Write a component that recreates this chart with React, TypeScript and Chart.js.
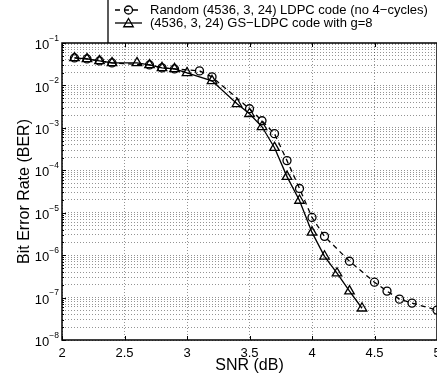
import { useEffect, useRef } from 'react';
import { Chart, registerables } from 'chart.js';
Chart.register(...registerables);

// ---- data ----
const randomSnr = [2.1, 2.2, 2.3, 2.4, 2.7, 2.8, 2.9, 3.1, 3.2, 3.5, 3.6, 3.7, 3.8, 3.9, 4.0, 4.1, 4.3, 4.5, 4.6, 4.7, 4.8, 5.0];
const randomBer = [0.0444, 0.0421, 0.0378, 0.0339, 0.0304, 0.0259, 0.0245, 0.022, 0.0159, 2.82e-3, 1.47e-3, 7.28e-4, 1.69e-4, 3.72e-5, 7.74e-6, 2.77e-6, 7.18e-7, 2.3e-7, 1.42e-7, 9.18e-8, 7.4e-8, 5.06e-8];
const gsSnr = [2.1, 2.2, 2.3, 2.4, 2.6, 2.7, 2.8, 2.9, 3.0, 3.2, 3.4, 3.5, 3.6, 3.7, 3.8, 3.9, 4.0, 4.1, 4.2, 4.3, 4.4];
const gsBer = [0.0444, 0.0421, 0.0378, 0.0339, 0.0339, 0.0304, 0.0259, 0.0245, 0.0197, 0.0128, 3.69e-3, 2.15e-3, 1.06e-3, 3.41e-4, 7.1e-5, 1.94e-5, 3.44e-6, 9.4e-7, 3.75e-7, 1.42e-7, 5.6e-8];

const randomLabel = 'Random (4536, 3, 24) LDPC code (no 4\u2212cycles)';
const gsLabel = '(4536, 3, 24) GS\u2212LDPC code with g=8';
const xTitle = 'SNR (dB)';
const yTitle = 'Bit Error Rate (BER)';

const xTicks = [2, 2.5, 3, 3.5, 4, 4.5, 5];
const xTickLabels = ['2', '2.5', '3', '3.5', '4', '4.5', '5'];
const yExponents = [-8, -7, -6, -5, -4, -3, -2, -1];
const yExponentLabels = ['\u22128', '\u22127', '\u22126', '\u22125', '\u22124', '\u22123', '\u22122', '\u22121'];
const yMantissas = [1, 2, 3, 4, 5, 6, 7, 8, 9];

const FONT = "'Liberation Sans', Arial, Helvetica, sans-serif";

function drawTriangle(ctx: CanvasRenderingContext2D, x: number, y: number, r: number) {
  let rad = 0;
  ctx.beginPath();
  ctx.moveTo(x + Math.sin(rad) * r, y - Math.cos(rad) * r);
  rad += (2 * Math.PI) / 3;
  ctx.lineTo(x + Math.sin(rad) * r, y - Math.cos(rad) * r);
  rad += (2 * Math.PI) / 3;
  ctx.lineTo(x + Math.sin(rad) * r, y - Math.cos(rad) * r);
  ctx.closePath();
  ctx.stroke();
}

export default function App() {
  const ref = useRef<HTMLCanvasElement>(null);

  useEffect(() => {
    document.body.style.margin = '0';
    const canvas = ref.current!;
    Chart.defaults.font.family = FONT;

    const decorPlugin = {
      id: 'decor',
      afterDraw(chart: any) {
        const ctx: CanvasRenderingContext2D = chart.ctx;
        const { left, right, top, bottom } = chart.chartArea;
        const xs = chart.scales.x;
        const ys = chart.scales.y;
        ctx.save();
        ctx.strokeStyle = '#000';
        ctx.fillStyle = '#000';
        ctx.setLineDash([]);

        // tick marks (inward)
        ctx.lineWidth = 1;
        ctx.beginPath();
        xTicks.forEach((v) => {
          const px = Math.round(xs.getPixelForValue(v)) + 0.5;
          ctx.moveTo(px, bottom);
          ctx.lineTo(px, bottom - 4);
          ctx.moveTo(px, top);
          ctx.lineTo(px, top + 4);
        });
        yExponents.forEach((e) => {
          yMantissas.forEach((m) => {
            const val = m * Math.pow(10, e);
            if (val > 0.1 + 1e-12) return;
            const py = Math.round(ys.getPixelForValue(val)) + 0.5;
            ctx.moveTo(left, py);
            ctx.lineTo(left + (m === 1 ? 4 : 2), py);
          });
        });
        ctx.stroke();

        // frame
        ctx.lineWidth = 1.5;
        ctx.beginPath();
        ctx.moveTo(right, top);
        ctx.lineTo(left, top);
        ctx.lineTo(left, bottom);
        ctx.lineTo(right, bottom);
        ctx.lineTo(right, top);
        ctx.stroke();

        // y tick labels 10^e
        ctx.textBaseline = 'middle';
        yExponents.forEach((e, i) => {
          const py = ys.getPixelForValue(Math.pow(10, e));
          ctx.font = `8.5px ${FONT}`;
          const supW = ctx.measureText(yExponentLabels[i]).width;
          const xr = left - 3;
          ctx.textAlign = 'left';
          ctx.fillText(yExponentLabels[i], xr - supW, py - 4.5);
          ctx.font = `13px ${FONT}`;
          ctx.textAlign = 'right';
          ctx.fillText('10', xr - supW, py + 2.5);
        });

        // legend
        const lx0 = 115, lx1 = 142, lm = 128.5, lt = 150;
        const r1 = 10, r2 = 23;
        ctx.lineWidth = 1.3;
        ctx.beginPath();
        ctx.moveTo(108, 0);
        ctx.lineTo(108, top);
        ctx.stroke();
        ctx.setLineDash([5, 4]);
        ctx.beginPath();
        ctx.moveTo(lx0, r1);
        ctx.lineTo(lx1, r1);
        ctx.stroke();
        ctx.setLineDash([]);
        ctx.beginPath();
        ctx.arc(lm, r1, 4, 0, Math.PI * 2);
        ctx.stroke();
        ctx.beginPath();
        ctx.moveTo(lx0, r2);
        ctx.lineTo(lx1, r2);
        ctx.stroke();
        drawTriangle(ctx, lm, r2 + 1, 5.5);
        ctx.font = `13px ${FONT}`;
        ctx.textAlign = 'left';
        ctx.textBaseline = 'middle';
        ctx.fillText(chart.data.datasets[0].label, lt, r1);
        ctx.fillText(chart.data.datasets[1].label, lt, r2);
        ctx.restore();
      },
    };

    const gridColor = 'rgba(0,0,0,0.42)';

    const chart = new Chart(canvas, {
      type: 'line',
      data: {
        datasets: [
          {
            label: randomLabel,
            data: randomSnr.map((x, i) => ({ x, y: randomBer[i] })),
            borderColor: '#000',
            borderWidth: 1.3,
            borderDash: [5, 4],
            pointStyle: 'circle',
            pointRadius: 4,
            pointBorderWidth: 1.3,
            pointBorderColor: '#000',
            pointBackgroundColor: 'rgba(0,0,0,0)',
            fill: false,
            tension: 0,
          },
          {
            label: gsLabel,
            data: gsSnr.map((x, i) => ({ x, y: gsBer[i] })),
            borderColor: '#000',
            borderWidth: 1.3,
            pointStyle: 'triangle',
            pointRadius: 5.5,
            pointBorderWidth: 1.3,
            pointBorderColor: '#000',
            pointBackgroundColor: 'rgba(0,0,0,0)',
            fill: false,
            tension: 0,
          },
        ],
      },
      options: {
        responsive: false,
        animation: false,
        devicePixelRatio: 1,
        layout: { padding: { left: 0, right: 15, top: 43, bottom: 0 } },
        plugins: { legend: { display: false }, tooltip: { enabled: false } },
        scales: {
          x: {
            type: 'linear',
            min: 2,
            max: 5,
            afterBuildTicks: (s: any) => {
              s.ticks = xTicks.map((v) => ({ value: v }));
            },
            ticks: {
              font: { size: 13 },
              color: '#000',
              padding: 6,
              maxRotation: 0,
              autoSkip: false,
              callback: (_v: any, i: number) => xTickLabels[i],
            },
            grid: { color: gridColor, lineWidth: 1, drawTicks: false },
            border: { display: false, dash: [1, 2] },
            title: {
              display: true,
              text: xTitle,
              color: '#000',
              font: { size: 16, lineHeight: 1 },
              padding: 0,
            },
            afterFit: (s: any) => {
              s.height = 34;
            },
          },
          y: {
            type: 'logarithmic',
            min: 1e-8,
            max: 1e-1,
            afterBuildTicks: (s: any) => {
              const t: any[] = [];
              yExponents.forEach((e) => {
                yMantissas.forEach((m) => {
                  const v = m * Math.pow(10, e);
                  if (v <= 0.1 + 1e-12) t.push({ value: v });
                });
              });
              s.ticks = t;
            },
            ticks: { display: false },
            grid: { color: gridColor, lineWidth: 1, drawTicks: false },
            border: { display: false, dash: [1, 2] },
            title: {
              display: true,
              text: yTitle,
              color: '#000',
              font: { size: 16, lineHeight: 1 },
              padding: { top: 17, bottom: 0 },
            },
            afterFit: (s: any) => {
              s.width = 62;
            },
          },
        },
      } as any,
      plugins: [decorPlugin],
    });
    return () => chart.destroy();
  }, []);

  return (
    <div style={{ width: 437, height: 374, overflow: 'hidden', position: 'relative', background: '#fff' }}>
      <canvas ref={ref} width={452} height={374} style={{ display: 'block' }} />
    </div>
  );
}
